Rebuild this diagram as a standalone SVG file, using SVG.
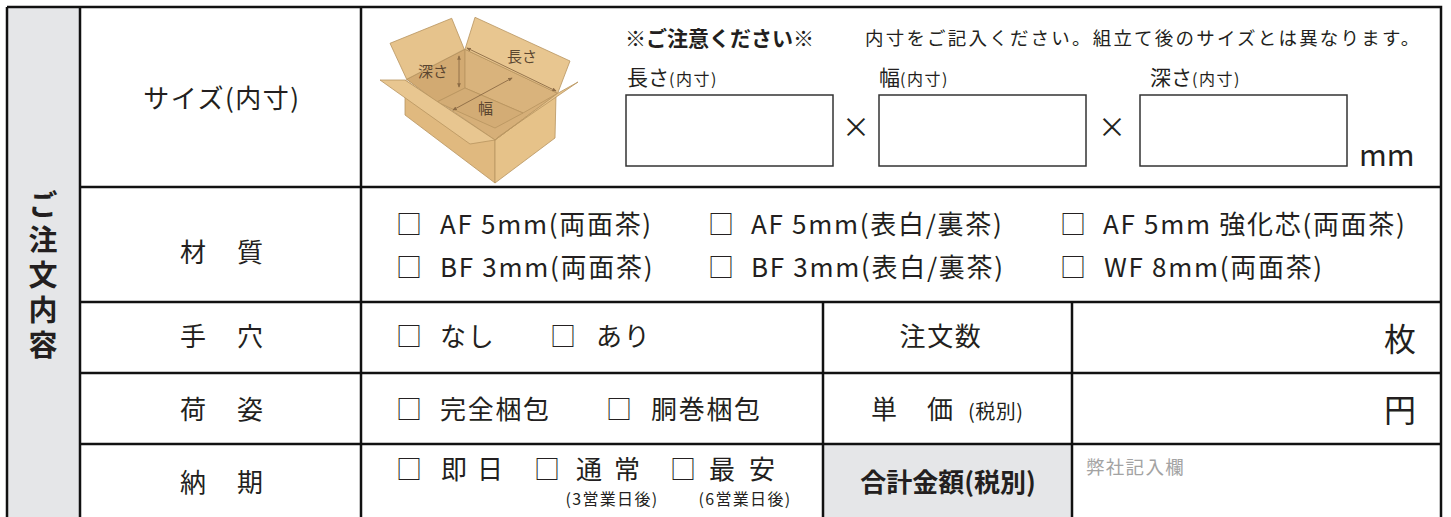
<svg xmlns="http://www.w3.org/2000/svg" width="1451" height="517" viewBox="0 0 1451 517">
<defs>
<style>
text{font-family:"Noto Sans CJK JP","Noto Sans",sans-serif;fill:#231f20}
.lb{font-size:26px}
.it{font-size:26px;letter-spacing:1.7px}
.ck{font-size:26px;opacity:0.99}
.sm{font-size:16px;letter-spacing:1.3px}
.ln{stroke:#111;stroke-width:2.5;fill:none}
.inp{fill:#fff;stroke:#333;stroke-width:1.5}
.bx{stroke:#b8945f;stroke-width:0.8;stroke-linejoin:round}
.dim{stroke:#8c6b45;stroke-width:0.9;fill:none;marker-start:url(#ah);marker-end:url(#ah)}
.bl{font-size:15px;fill:#5b4630}
.dl{font-size:21px}
.dl tspan{font-size:16px;letter-spacing:1.5px}
</style>
<marker id="ah" viewBox="0 0 6 6" refX="5" refY="3" markerWidth="5" markerHeight="5" orient="auto-start-reverse">
<path d="M0,0.5 L6,3 L0,5.5 z" fill="#8c6b45"/>
</marker>
</defs>
<rect width="1451" height="517" fill="#fff"/>

<g id="shading">
<rect x="7" y="7" width="73" height="510" fill="#e5e6e8"/>
<rect x="823" y="444" width="249" height="73" fill="#e5e6e8"/>
</g>

<g id="grid">
<path class="ln" d="M7,7 H1441 V517 M7,7 V517 M80,7 V517 M361,7 V517 M80,187 H1441 M80,302 H1441 M80,373 H1441 M80,444 H1441 M823,302 V517 M1072,302 V517"/>
</g>

<g id="section-label">
<text x="43 43 43 43 43" y="216 251 286 321 356" text-anchor="middle" style="font-size:29px;font-weight:700">ご注文内容</text>
</g>

<g id="row-size">
<text class="lb" x="222" y="108" text-anchor="middle" style="letter-spacing:1.5px">サイズ(内寸)</text>
<g id="box-illustration">
<polygon class="bx" points="405,80 495,140 495,183 405,115" fill="#e0b97f"/>
<polygon class="bx" points="495,140 556,95 555,138 495,183" fill="#e6c289"/>
<polygon class="bx" points="406.7,79.3 465,49.3 557.7,93.3 495,140" fill="#d6af78"/>
<polygon class="bx" points="406.7,79.3 465,49.3 465,88 437,102" fill="#d2aa72"/>
<polygon class="bx" points="465,49.3 557.7,93.3 523,113 465,88" fill="#d9b37c"/>
<polygon class="bx" points="437,102 465,88 523,113 495,128" fill="#d3ac75"/>
<polygon class="bx" points="390,43.3 451.7,18.3 464.3,49.3 406.7,79.3" fill="#e6c38c"/>
<polygon class="bx" points="465,49.3 475,17.3 570,61 557.7,93.3" fill="#e8c690"/>
<polygon class="bx" points="380,80 405,80 495,140 470,144" fill="#e8c690"/>
<polygon class="bx" points="495,140 557.7,93.3 578,82 498,137" fill="#e8c690"/>
<line class="dim" x1="459" y1="56" x2="459" y2="87"/>
<line class="dim" x1="467" y1="48" x2="556" y2="91"/>
<line class="dim" x1="453" y1="110" x2="512" y2="78"/>
<text class="bl" x="418" y="77">深さ</text>
<text class="bl" x="507" y="62">長さ</text>
<text class="bl" x="478" y="114">幅</text>
</g>
<text x="625" y="46" style="font-size:21px;font-weight:700">※ご注意ください※</text>
<text x="865" y="45" style="font-size:18.5px;letter-spacing:2.2px">内寸をご記入ください。組立て後のサイズとは異なります。</text>
<text class="dl" x="627" y="85">長さ<tspan>(内寸)</tspan></text>
<text class="dl" x="879" y="85">幅<tspan>(内寸)</tspan></text>
<text class="dl" x="1150" y="85">深さ<tspan>(内寸)</tspan></text>
<rect class="inp" x="626" y="95" width="207" height="71"/>
<rect class="inp" x="879" y="95" width="207" height="71"/>
<rect class="inp" x="1140" y="95" width="207" height="71"/>
<text x="856" y="138" text-anchor="middle" style="font-size:28px">×</text>
<text x="1112" y="138" text-anchor="middle" style="font-size:28px">×</text>
<text x="1359" y="166" style="font-size:30px">mm</text>
</g>

<g id="row-material">
<text class="lb"><tspan x="180" y="262">材</tspan><tspan x="237" y="262">質</tspan></text>
<text class="ck" x="396" y="234">□</text><text class="it" x="440" y="234">AF 5mm(両面茶)</text>
<text class="ck" x="708" y="234">□</text><text class="it" x="751" y="234">AF 5mm(表白/裏茶)</text>
<text class="ck" x="1060" y="234">□</text><text class="it" x="1103" y="234">AF 5mm 強化芯(両面茶)</text>
<text class="ck" x="396" y="277">□</text><text class="it" x="440" y="277">BF 3mm(両面茶)</text>
<text class="ck" x="708" y="277">□</text><text class="it" x="751" y="277">BF 3mm(表白/裏茶)</text>
<text class="ck" x="1060" y="277">□</text><text class="it" x="1104" y="277">WF 8mm(両面茶)</text>
</g>

<g id="row-handhole">
<text class="lb"><tspan x="180" y="346">手</tspan><tspan x="237" y="346">穴</tspan></text>
<text class="ck" x="396" y="346">□</text><text class="it" x="440" y="346">なし</text>
<text class="ck" x="550" y="346">□</text><text class="it" x="596" y="346">あり</text>
<text class="it" x="941" y="346" text-anchor="middle">注文数</text>
<text x="1416" y="351" text-anchor="end" style="font-size:32px">枚</text>
</g>

<g id="row-packing">
<text class="lb"><tspan x="180" y="419">荷</tspan><tspan x="237" y="419">姿</tspan></text>
<text class="ck" x="396" y="419">□</text><text class="it" x="440" y="419">完全梱包</text>
<text class="ck" x="606" y="419">□</text><text class="it" x="651" y="419">胴巻梱包</text>
<text class="lb" y="419"><tspan x="871">単</tspan><tspan x="927">価</tspan><tspan x="968" style="font-size:20px;letter-spacing:0.5px">(税別)</tspan></text>
<text x="1416" y="422" text-anchor="end" style="font-size:32px">円</text>
</g>

<g id="row-delivery">
<text class="lb"><tspan x="180" y="492">納</tspan><tspan x="237" y="492">期</tspan></text>
<text class="ck" x="396" y="479">□</text>
<text class="lb" y="479"><tspan x="441">即</tspan><tspan x="477">日</tspan></text>
<text class="ck" x="534" y="479">□</text>
<text class="lb" y="479"><tspan x="576">通</tspan><tspan x="614">常</tspan></text>
<text class="ck" x="670" y="479">□</text>
<text class="lb" y="479"><tspan x="709">最</tspan><tspan x="749">安</tspan></text>
<text class="sm" x="612" y="505" text-anchor="middle">(3営業日後)</text>
<text class="sm" x="745" y="505" text-anchor="middle">(6営業日後)</text>
<text x="948" y="492" text-anchor="middle" style="font-size:26px;font-weight:700">合計金額(税別)</text>
<text x="1086" y="474" style="font-size:18.5px;letter-spacing:1.3px;fill:#a3a3a3">弊社記入欄</text>
</g>
</svg>
